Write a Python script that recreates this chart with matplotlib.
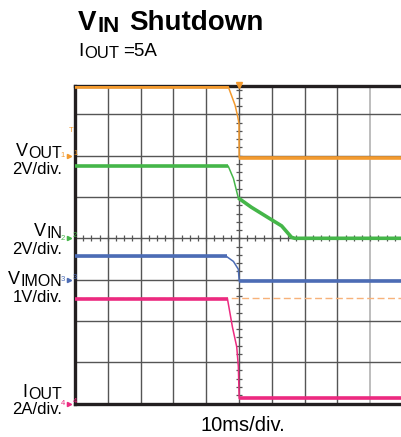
import matplotlib
matplotlib.use("Agg")
import matplotlib.pyplot as plt
import numpy as np

plt.rcParams['font.family'] = ['Liberation Sans', 'DejaVu Sans']

# time in ms (10 ms/div), trigger at t = 0 in the middle of the screen
t_vout = [-50, -3.3, -1.2, -0.4, 0.0, 0.05, 49.5]
vout = [3.35, 3.35, 2.45, 1.9, 1.55, -0.1, -0.1]

t_vin = [-50, -3.3, -1.7, -0.2, 3.8, 8.9, 13.0, 16.0, 17.0, 49.5]
vin = [3.5, 3.5, 2.9, 1.95, 1.5, 1.0, 0.6, 0.05, 0.0, 0.0]

t_imon = [-50, -3.8, -1.7, -0.2, 0.05, 49.5]
vimon = [0.56, 0.56, 0.44, 0.25, -0.03, -0.03]

t_iout = [-50, -3.5, -2.0, -0.7, -0.2, 0.05, 49.5]
iout = [5.05, 5.05, 3.7, 2.75, 1.8, 0.25, 0.25]

cursor_div = 2.56   # orange dashed reference line (divisions)
trig_div = 6.62     # trigger level marker

# name, subscript, scale label, data, V(or A)/div, ground position (div), colour, marker
channels = [
    ("V", "OUT", "2V/div.", t_vout, vout, 2.0, 6, '#f39a2e', "1", 5),
    ("V", "IN", "2V/div.", t_vin, vin, 2.0, 4, '#45b649', "2", 3),
    ("V", "IMON", "1V/div.", t_imon, vimon, 1.0, 3, '#4c6cb5', "3", 4),
    ("I", "OUT", "2A/div.", t_iout, iout, 2.0, 0, '#ec2a80', "4", 5),
]

W, H = 401, 437
fig = plt.figure(figsize=(W / 100, H / 100), dpi=100)
ax = fig.add_axes([75 / W, (H - 403.5) / H, 326 / W, 317.5 / H])
ax.set_xlim(0, 326 / 32.8)
ax.set_ylim(0, 317.5 / 41.3)

# grid
for i in range(1, 10):
    c = '#b8b8b8' if i == 9 else '#555555'
    ax.axvline(i, color=c, lw=1.3 if i == 9 else 1.0, zorder=1)
for j in range(1, 8):
    ax.axhline(j, color='#555555', lw=1.0, zorder=1)

# minor ticks on the centre lines
xs = np.arange(0, 10, 0.25)
ax.vlines(xs, 4 - 0.07, 4 + 0.07, color='#555555', lw=0.9, zorder=1)
ys = np.arange(0, 7.8, 0.2)
ax.hlines(ys, 5 - 0.09, 5 + 0.09, color='#555555', lw=0.9, zorder=1)

ax.axhline(cursor_div, color='#f7b27a', lw=1.0, ls=(0, (5, 2.5)), zorder=2)

for name, sub, scale_lbl, t, v, scale, gnd, col, mk, k in channels:
    xd = np.array(t) / 10 + 5
    yd = gnd + np.array(v) / scale
    ax.plot(xd, yd, color=col, lw=1.1, zorder=3)
    ax.plot(xd[:2], yd[:2], color=col, lw=2.6, zorder=3, solid_capstyle='butt')
    ax.plot(xd[k:], yd[k:], color=col, lw=2.6, zorder=3, solid_capstyle='butt')
    # channel ground marker
    ax.text(-0.3, gnd, mk, color=col, fontsize=5.5, ha='right', va='center', clip_on=False)
    ax.plot(-0.17, gnd, marker='>', ms=3, color=col, clip_on=False)
    ax.text(-0.06, gnd + 0.06, mk, color=col, fontsize=5.5, ha='left', va='center', clip_on=False)

# trigger markers
ax.text(-0.12, trig_div, "T", color='#f39a2e', fontsize=5.5, ha='center', va='center', clip_on=False)
ax.plot(5, 7.72, marker='v', ms=4, color='#f39a2e', clip_on=False, zorder=5)

for s in ['left', 'bottom', 'top']:
    ax.spines[s].set_color('#231f20')
    ax.spines[s].set_linewidth(2.4)
ax.spines['right'].set_visible(False)
ax.set_xticks([])
ax.set_yticks([])

# channel labels on the left: (subscript baseline, scale baseline) in pixels
pos = [(158, 174), (238, 254), (286, 302), (399, 414)]
for (name, sub, scale_lbl, *_), (ylab, yscale) in zip(channels, pos):
    s_txt = fig.text(62 / W, 1 - ylab / H, sub, fontsize=11.5, ha='right', va='baseline')
    fig.text(62 / W, 1 - yscale / H, scale_lbl, fontsize=12, ha='right', va='baseline')
    ax.annotate(name, xy=(0, 0), xycoords=s_txt, xytext=(-0.5, 1), textcoords='offset points',
                fontsize=13, ha='right', va='bottom', annotation_clip=False)

# title
t1 = fig.text(78 / W, 1 - 30 / H, "V", fontsize=20, weight='bold', ha='left', va='baseline')
ax.annotate("IN", xy=(1, 0), xycoords=t1, xytext=(0.5, -1), textcoords='offset points',
            fontsize=16, weight='bold', ha='left', va='bottom', annotation_clip=False)
fig.text(129 / W, 1 - 30 / H, "Shutdown", fontsize=20, weight='bold', ha='left', va='baseline')

s1 = fig.text(78 / W, 1 - 56 / H, "I", fontsize=14, ha='left', va='baseline')
ax.annotate("OUT", xy=(1, 0), xycoords=s1, xytext=(0.5, -1), textcoords='offset points',
            fontsize=12, ha='left', va='bottom', annotation_clip=False)
fig.text(123 / W, 1 - 56 / H, "=5A", fontsize=13.5, ha='left', va='baseline')

fig.text(243 / W, 1 - 431 / H, "10ms/div.", fontsize=14.5, ha='center', va='baseline')

fig.savefig("out.png", dpi=100)
